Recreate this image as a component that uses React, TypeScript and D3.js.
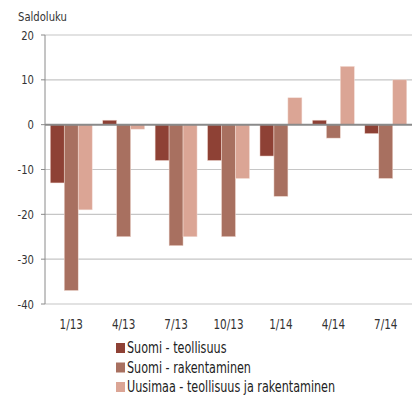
import React, { useEffect, useRef } from 'react';
import * as d3 from 'd3';

const categories = ['1/13', '4/13', '7/13', '10/13', '1/14', '4/14', '7/14'];
const seriesNames = ['Suomi - teollisuus', 'Suomi - rakentaminen', 'Uusimaa - teollisuus ja rakentaminen'];
const teollisuus = [-13, 1, -8, -8, -7, 1, -2];
const rakentaminen = [-37, -25, -27, -25, -16, -3, -12];
const uusimaa = [-19, -1, -25, -12, 6, 13, 10];
const yTicks = [20, 10, 0, -10, -20, -30, -40];
const colors = ['#8e4135', '#a87060', '#dba595'];

const FONT = '"DejaVu Sans Condensed", "Liberation Sans Narrow", sans-serif';
const SQUEEZE = 0.86; // narrow the glyphs like the condensed original face

const App: React.FC = () => {
  const svgRef = useRef<SVGSVGElement>(null);

  useEffect(() => {
    if (!svgRef.current) return;
    const svg = d3.select(svgRef.current);
    svg.selectAll('*').remove();

    const series = [teollisuus, rakentaminen, uusimaa];
    const left = 45, right = 412;

    const y = d3.scaleLinear().domain([-40, 20]).range([304, 35]);
    const x0 = d3.scaleBand().domain(categories).range([left, right]).paddingInner(0.2).paddingOuter(0.1);
    const x1 = d3.scaleBand().domain(['0', '1', '2']).range([0, x0.bandwidth()]);

    // gridlines
    svg.append('g')
      .selectAll('line')
      .data(yTicks.filter(t => t !== 0))
      .enter()
      .append('line')
      .attr('x1', left).attr('x2', right)
      .attr('y1', d => y(d)).attr('y2', d => y(d))
      .attr('stroke', '#c6c6c6')
      .attr('stroke-width', 1.2);

    // y axis line and ticks
    svg.append('line')
      .attr('x1', left).attr('x2', left)
      .attr('y1', y(20)).attr('y2', y(-40))
      .attr('stroke', '#8a8a8a').attr('stroke-width', 1);
    svg.append('g')
      .selectAll('line')
      .data(yTicks)
      .enter()
      .append('line')
      .attr('x1', left - 4).attr('x2', left)
      .attr('y1', d => y(d)).attr('y2', d => y(d))
      .attr('stroke', '#8a8a8a');

    svg.append('g')
      .selectAll('text')
      .data(yTicks)
      .enter()
      .append('text')
      .attr('transform', d => `translate(34, ${y(d)}) scale(${SQUEEZE}, 1)`)
      .attr('dy', '0.35em')
      .attr('text-anchor', 'end')
      .attr('font-family', FONT)
      .attr('font-size', 13)
      .attr('fill', '#333')
      .text(d => String(d));

    // bars
    series.forEach((vals, si) => {
      svg.append('g')
        .selectAll('rect')
        .data(vals)
        .enter()
        .append('rect')
        .attr('x', (d, i) => (x0(categories[i]) ?? 0) + (x1(String(si)) ?? 0))
        .attr('width', x1.bandwidth())
        .attr('y', d => y(Math.max(0, d)))
        .attr('height', d => Math.abs(y(d) - y(0)))
        .attr('fill', colors[si])
        .attr('stroke', '#f3ddd6')
        .attr('stroke-width', 0.5);
    });

    // zero line
    svg.append('line')
      .attr('x1', left).attr('x2', right)
      .attr('y1', y(0)).attr('y2', y(0))
      .attr('stroke', '#8a8a8a').attr('stroke-width', 2);

    // x labels
    svg.append('g')
      .selectAll('text')
      .data(categories)
      .enter()
      .append('text')
      .attr('transform', d => `translate(${(x0(d) ?? 0) + x0.bandwidth() / 2}, 329) scale(${SQUEEZE}, 1)`)
      .attr('text-anchor', 'middle')
      .attr('font-family', FONT)
      .attr('font-size', 13.5)
      .attr('fill', '#333')
      .text(d => d);

    // title
    svg.append('text')
      .attr('transform', `translate(18, 21) scale(${SQUEEZE}, 1)`)
      .attr('font-family', FONT)
      .attr('font-size', 13)
      .attr('fill', '#333')
      .text('Saldoluku');

    // legend
    const legend = svg.append('g')
      .selectAll('g')
      .data(seriesNames)
      .enter()
      .append('g')
      .attr('transform', (d, i) => `translate(116, ${343 + i * 19.5})`);
    legend.append('rect')
      .attr('width', 9).attr('height', 10)
      .attr('fill', (d, i) => colors[i]);
    legend.append('text')
      .attr('transform', `translate(11, 10) scale(0.83, 1)`)
      .attr('font-family', FONT)
      .attr('font-size', 15)
      .attr('fill', '#222')
      .text(d => d);
  }, []);

  return (
    <svg ref={svgRef} width={418} height={401}
      style={{ position: 'absolute', left: 0, top: 0, background: '#fff' }} />
  );
};

export default App;
